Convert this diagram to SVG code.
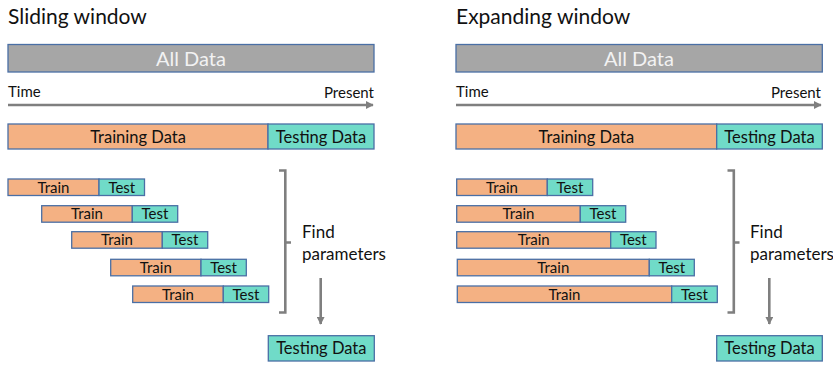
<svg xmlns="http://www.w3.org/2000/svg" width="833" height="365" viewBox="0 0 833 365">
  <style>
    text { font-family: "Lato", "Liberation Sans", sans-serif; fill: #111111; }
    .title { font-size: 21px; }
    .all { fill: #a6a6a6; stroke: #4a6fa5; stroke-width: 1.3; }
    .allt { font-size: 20px; fill: #f2f2f2; text-anchor: middle; }
    .tr { fill: #f4b183; stroke: #4a6fa5; stroke-width: 1.3; }
    .te { fill: #70dbc8; stroke: #4a6fa5; stroke-width: 1.3; }
    .big { font-size: 16.5px; text-anchor: middle; }
    .small { font-size: 15px; text-anchor: middle; }
    .lbl { font-size: 15px; }
    .find { font-size: 17px; }
    .line { fill: none; stroke: #7f7f7f; stroke-width: 2.6; }
  </style>
  <defs>
    <marker id="head" viewBox="0 0 10 10" refX="9" refY="5" markerWidth="3" markerHeight="3" markerUnits="strokeWidth" orient="auto">
      <path d="M0,0 L10,5 L0,10 Z" fill="#7f7f7f"/>
    </marker>
  </defs>

  <!-- Sliding window -->
  <text id="title-sliding" class="title" x="8" y="24">Sliding window</text>
  <g id="all-data-1">
    <rect class="all" x="8" y="44.5" width="366" height="27.5"/>
    <text class="allt" x="191" y="65.5">All Data</text>
  </g>
  <text class="lbl" x="8" y="97">Time</text>
  <text class="lbl" x="374" y="98" text-anchor="end">Present</text>
  <g id="split-1">
    <rect class="tr" x="8" y="124" width="260" height="25"/>
    <rect class="te" x="268" y="124" width="106" height="25"/>
    <text class="big" x="138" y="142.5">Training Data</text>
    <text class="big" x="321" y="142.5">Testing Data</text>
  </g>
  <g id="fold-1-1">
    <rect class="tr" x="8" y="179" width="91" height="16.5"/>
    <rect class="te" x="99" y="179" width="45.5" height="16.5"/>
    <text class="small" x="53.5" y="192.7">Train</text>
    <text class="small" x="121.8" y="192.7">Test</text>
  </g>
  <g id="fold-1-2">
    <rect class="tr" x="41.7" y="205.7" width="90.6" height="16.5"/>
    <rect class="te" x="132.3" y="205.7" width="45.4" height="16.5"/>
    <text class="small" x="87" y="219.4">Train</text>
    <text class="small" x="155" y="219.4">Test</text>
  </g>
  <g id="fold-1-3">
    <rect class="tr" x="71.7" y="231.7" width="90.6" height="16.5"/>
    <rect class="te" x="162.3" y="231.7" width="45.4" height="16.5"/>
    <text class="small" x="117" y="245.4">Train</text>
    <text class="small" x="185" y="245.4">Test</text>
  </g>
  <g id="fold-1-4">
    <rect class="tr" x="110.7" y="259.3" width="90.3" height="16.5"/>
    <rect class="te" x="201" y="259.3" width="45.3" height="16.5"/>
    <text class="small" x="155.8" y="273">Train</text>
    <text class="small" x="223.6" y="273">Test</text>
  </g>
  <g id="fold-1-5">
    <rect class="tr" x="132.7" y="286" width="90.6" height="16.5"/>
    <rect class="te" x="223.3" y="286" width="45.4" height="16.5"/>
    <text class="small" x="178" y="299.7">Train</text>
    <text class="small" x="246" y="299.7">Test</text>
  </g>
  <text class="find" x="302" y="237.7">Find</text>
  <text class="find" x="302" y="260">parameters</text>
  <g id="result-1">
    <rect class="te" x="268.3" y="335.7" width="106" height="25.3"/>
    <text class="big" x="321.3" y="354.2">Testing Data</text>
  </g>

  <!-- Expanding window -->
  <text id="title-expanding" class="title" x="456" y="24">Expanding window</text>
  <g id="all-data-2">
    <rect class="all" x="456" y="44.5" width="366.3" height="27.5"/>
    <text class="allt" x="639" y="65.5">All Data</text>
  </g>
  <text class="lbl" x="456" y="97">Time</text>
  <text class="lbl" x="821" y="98" text-anchor="end">Present</text>
  <g id="split-2">
    <rect class="tr" x="456" y="124" width="260.7" height="25"/>
    <rect class="te" x="716.7" y="124" width="105.6" height="25"/>
    <text class="big" x="586.3" y="142.5">Training Data</text>
    <text class="big" x="769.5" y="142.5">Testing Data</text>
  </g>
  <g id="fold-2-1">
    <rect class="tr" x="456.7" y="179" width="90.6" height="16.5"/>
    <rect class="te" x="547.3" y="179" width="45.4" height="16.5"/>
    <text class="small" x="502" y="192.7">Train</text>
    <text class="small" x="570" y="192.7">Test</text>
  </g>
  <g id="fold-2-2">
    <rect class="tr" x="456.7" y="205.7" width="123.6" height="16.5"/>
    <rect class="te" x="580.3" y="205.7" width="45.4" height="16.5"/>
    <text class="small" x="518.5" y="219.4">Train</text>
    <text class="small" x="603" y="219.4">Test</text>
  </g>
  <g id="fold-2-3">
    <rect class="tr" x="456.7" y="231.7" width="154" height="16.5"/>
    <rect class="te" x="610.7" y="231.7" width="45.3" height="16.5"/>
    <text class="small" x="533.7" y="245.4">Train</text>
    <text class="small" x="633.3" y="245.4">Test</text>
  </g>
  <g id="fold-2-4">
    <rect class="tr" x="457.3" y="259.3" width="192" height="16.5"/>
    <rect class="te" x="649.3" y="259.3" width="45" height="16.5"/>
    <text class="small" x="553.3" y="273">Train</text>
    <text class="small" x="671.8" y="273">Test</text>
  </g>
  <g id="fold-2-5">
    <rect class="tr" x="457.3" y="286" width="214.4" height="16.5"/>
    <rect class="te" x="671.7" y="286" width="45.6" height="16.5"/>
    <text class="small" x="564.5" y="299.7">Train</text>
    <text class="small" x="694.5" y="299.7">Test</text>
  </g>
  <text class="find" x="750" y="237.7">Find</text>
  <text class="find" x="750" y="260">parameters</text>
  <g id="result-2">
    <rect class="te" x="716.7" y="335.7" width="105.6" height="25.3"/>
    <text class="big" x="769.5" y="354.2">Testing Data</text>
  </g>

  <!-- time axes, braces and flow arrows -->
  <g id="connectors">
    <line class="line" x1="8" y1="105" x2="373" y2="105" marker-end="url(#head)"/>
    <line class="line" x1="456" y1="105" x2="821" y2="105" marker-end="url(#head)"/>
    <path class="line" d="M279,170.5 H285.3 V312.5 H279 M285.3,242.5 H291"/>
    <path class="line" d="M727.5,170.5 H733.8 V312.5 H727.5 M733.8,242.5 H739.5"/>
    <line class="line" x1="320.7" y1="278" x2="320.7" y2="324" marker-end="url(#head)"/>
    <line class="line" x1="769.3" y1="278" x2="769.3" y2="324" marker-end="url(#head)"/>
  </g>
</svg>
